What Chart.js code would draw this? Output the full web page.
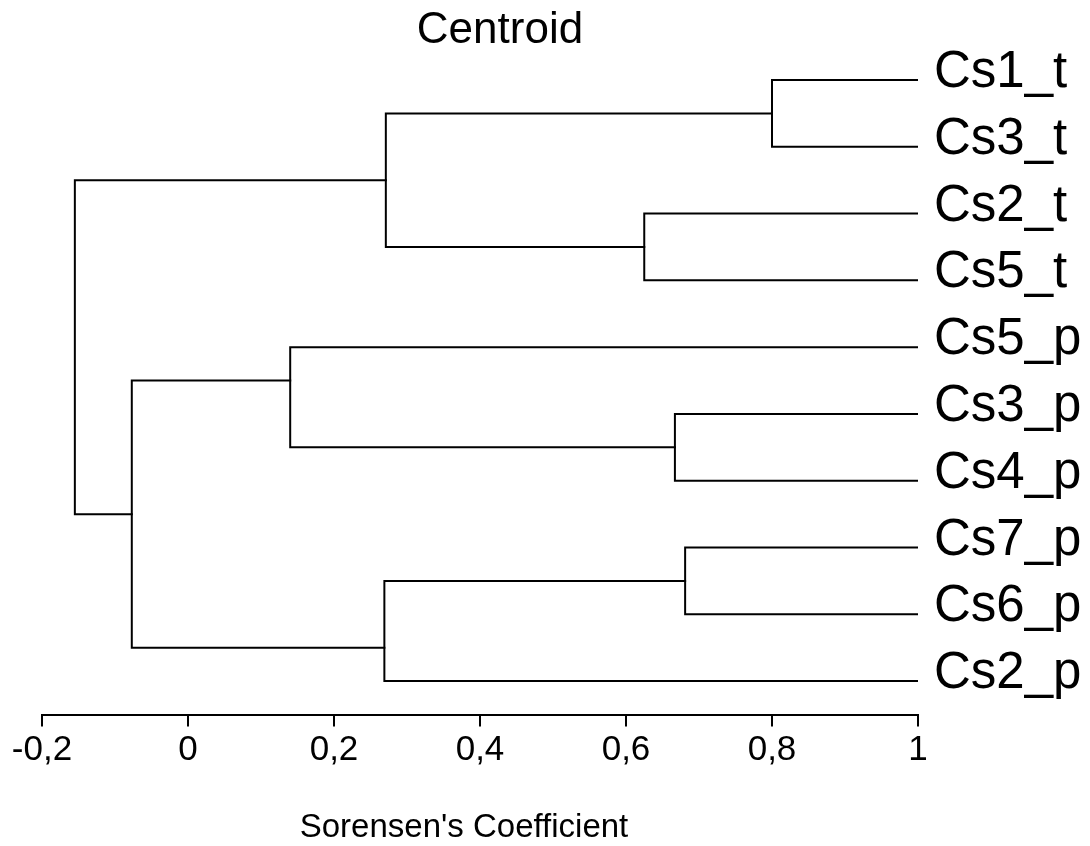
<!DOCTYPE html>
<html>
<head>
<meta charset="utf-8">
<script src="https://cdn.jsdelivr.net/npm/chart.js@4.4.1/dist/chart.umd.min.js"></script>
<style>
  html, body { margin: 0; padding: 0; background: #ffffff; }
  #c { display: block; }
</style>
</head>
<body>
<canvas id="c" width="1090" height="846"></canvas>
<script>
// ---- data ----
const chartTitle = 'Centroid';
const xAxisTitle = "Sorensen's Coefficient";
const leafLabels = ['Cs1_t', 'Cs3_t', 'Cs2_t', 'Cs5_t', 'Cs5_p', 'Cs3_p', 'Cs4_p', 'Cs7_p', 'Cs6_p', 'Cs2_p'];
// merges: node ids 0..9 are leaves, 10.. are merges in order
const mergeLeft   = [0, 2, 10, 5, 4, 7, 15, 14, 12];
const mergeRight  = [1, 3, 11, 6, 13, 8, 9, 16, 17];
const mergeHeight = [0.800, 0.625, 0.271, 0.667, 0.140, 0.681, 0.269, -0.077, -0.155];
const mergeRow    = [0.5, 2.5, 1.5, 5.5, 4.5, 7.5, 8.5, 6.5, 3.5];
const leafValue = 1;
const xTickValues = [-0.2, 0, 0.2, 0.4, 0.6, 0.8, 1];
const xTickLabels = ['-0,2', '0', '0,2', '0,4', '0,6', '0,8', '1'];

const nLeaves = leafLabels.length;
function nodeX(n) { return n < nLeaves ? leafValue : mergeHeight[n - nLeaves]; }
function nodeY(n) { return n < nLeaves ? n : mergeRow[n - nLeaves]; }

const datasets = mergeHeight.map((h, k) => {
  const L = mergeLeft[k], R = mergeRight[k];
  return {
    data: [
      { x: nodeX(L), y: nodeY(L) },
      { x: h, y: nodeY(L) },
      { x: h, y: nodeY(R) },
      { x: nodeX(R), y: nodeY(R) }
    ],
    showLine: true,
    borderColor: '#000000',
    borderWidth: 2,
    pointRadius: 0,
    pointHoverRadius: 0,
    fill: false,
    tension: 0
  };
});

const FONT = '"Liberation Sans", Arial, Helvetica, sans-serif';

const textPlugin = {
  id: 'titles',
  afterDraw(chart) {
    const ctx = chart.ctx;
    ctx.save();
    ctx.fillStyle = '#000000';
    ctx.textAlign = 'center';
    ctx.textBaseline = 'alphabetic';
    ctx.font = '44px ' + FONT;
    ctx.fillText(chartTitle, 500, 42.5);
    ctx.font = '33px ' + FONT;
    ctx.fillText(xAxisTitle, 464, 837);
    ctx.restore();
  }
};

new Chart(document.getElementById('c'), {
  type: 'scatter',
  data: { datasets },
  plugins: [textPlugin],
  options: {
    responsive: false,
    animation: false,
    events: [],
    layout: { padding: { left: 42, top: 44.5, right: 0, bottom: 0 } },
    plugins: {
      legend: { display: false },
      tooltip: { enabled: false },
      title: { display: false }
    },
    elements: { line: { borderCapStyle: 'square', borderJoinStyle: 'miter' } },
    scales: {
      x: {
        type: 'linear',
        position: 'bottom',
        min: -0.2,
        max: 1,
        afterBuildTicks(scale) { scale.ticks = xTickValues.map(v => ({ value: v })); },
        afterFit(scale) { scale.height = 131.5; },
        ticks: {
          autoSkip: false,
          maxRotation: 0,
          color: '#000000',
          padding: 3,
          font: { family: FONT, size: 35 },
          callback: (v, i) => xTickLabels[i]
        },
        grid: {
          display: true,
          drawOnChartArea: false,
          drawTicks: true,
          tickLength: 12,
          color: '#000000',
          lineWidth: 2
        },
        border: { display: true, color: '#000000', width: 2 }
      },
      y: {
        type: 'linear',
        position: 'right',
        reverse: true,
        min: -0.5,
        max: nLeaves - 0.5,
        afterBuildTicks(scale) { scale.ticks = leafLabels.map((_, i) => ({ value: i })); },
        afterFit(scale) { scale.width = 172; },
        ticks: {
          autoSkip: false,
          color: '#000000',
          padding: 16,
          labelOffset: -7,
          font: { family: FONT, size: 51 },
          callback: (v, i) => leafLabels[i]
        },
        grid: { display: false, drawTicks: false },
        border: { display: false }
      }
    }
  }
});
</script>
</body>
</html>
